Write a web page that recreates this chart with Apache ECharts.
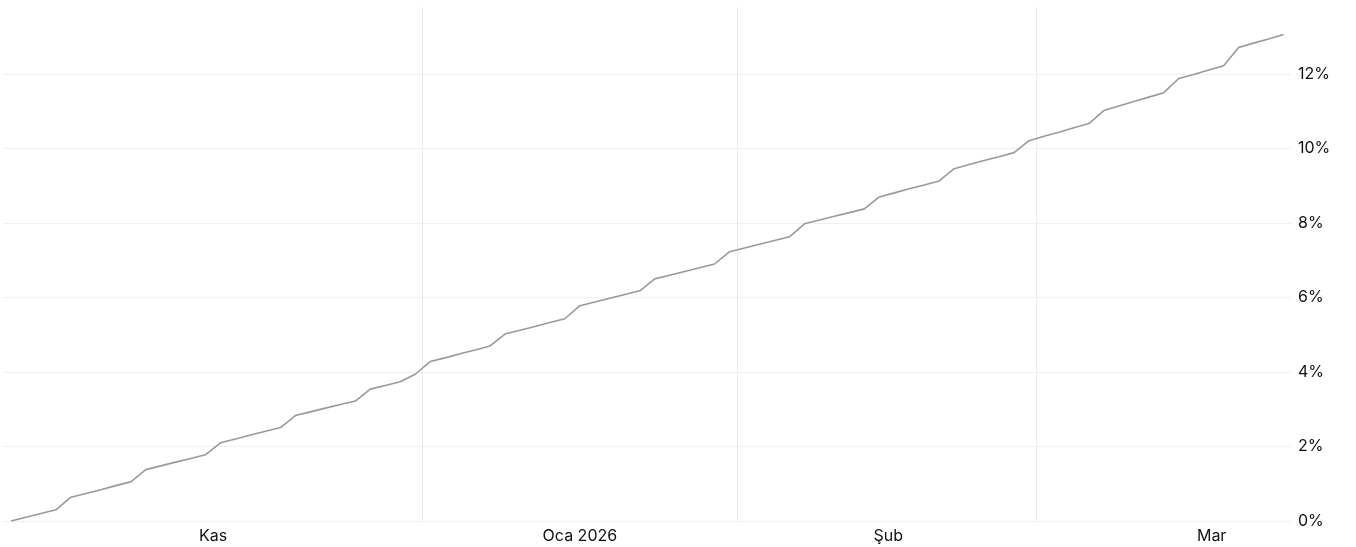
<!DOCTYPE html>
<html>
<head>
<meta charset="utf-8">
<script src="https://cdn.jsdelivr.net/npm/echarts@6/dist/echarts.min.js"></script>
<style>
  html, body { margin: 0; padding: 0; background: #fff; }
  #chart { width: 1356px; height: 547px; }
</style>
</head>
<body>
<div id="chart"></div>
<script>
// cumulative return (%), one point per trading day
const values = [
  0.00, 0.10, 0.20, 0.30, 0.64, 0.74, 0.84, 0.95, 1.05, 1.38,
  1.48, 1.58, 1.68, 1.78, 2.10, 2.20, 2.31, 2.41, 2.51, 2.83,
  2.93, 3.03, 3.13, 3.22, 3.54, 3.64, 3.74, 3.94, 4.28, 4.38,
  4.49, 4.59, 4.70, 5.02, 5.12, 5.22, 5.33, 5.43, 5.78, 5.88,
  5.98, 6.08, 6.18, 6.50, 6.60, 6.70, 6.80, 6.90, 7.23, 7.33,
  7.43, 7.53, 7.63, 7.98, 8.08, 8.18, 8.28, 8.38, 8.70, 8.81,
  8.92, 9.02, 9.13, 9.46, 9.57, 9.68, 9.78, 9.89, 10.21, 10.33,
  10.44, 10.56, 10.67, 11.02, 11.14, 11.26, 11.38, 11.50, 11.88, 11.99,
  12.11, 12.22, 12.71, 12.83, 12.94, 13.06
]

// x axis labels and month separators (in trading-day index units)
const xLabels = ['Kas', 'Oca 2026', 'Şub', 'Mar']
const xLabelPos = [13.5, 38, 58.6, 80.2]
const monthBreaks = [27.5, 48.5, 68.5]
const yTicks = [0, 2, 4, 6, 8, 10, 12]

const chart = echarts.init(document.getElementById('chart'))

const labelFont = {
  fontFamily: 'Inter, "Liberation Sans", sans-serif',
  fontSize: 16,
  color: '#111111',
}

chart.setOption({
  animation: false,
  grid: {
    left: 3.5,
    right: 65,
    top: 7,
    bottom: 26,
    containLabel: false,
    outerBoundsMode: 'none',
  },
  xAxis: {
    type: 'value',
    min: -0.5,
    max: values.length - 0.5,
    axisLine: {show: false},
    axisTick: {show: false, customValues: monthBreaks},
    splitLine: {show: true, lineStyle: {color: '#ececec', width: 1}},
    axisLabel: {
      ...labelFont,
      margin: 7,
      customValues: xLabelPos,
      formatter: v => xLabels[xLabelPos.indexOf(v)] ?? '',
    },
  },
  yAxis: {
    type: 'value',
    position: 'right',
    min: 0,
    max: 13.8,
    axisLine: {show: false},
    axisTick: {show: false, customValues: yTicks},
    splitLine: {show: true, lineStyle: {color: '#f0f0f0', width: 1}},
    axisLabel: {
      ...labelFont,
      margin: 7,
      customValues: yTicks,
      formatter: '{value}%',
    },
  },
  series: [
    {
      type: 'line',
      data: values.map((v, i) => [i, v]),
      symbol: 'none',
      lineStyle: {color: '#999999', width: 1.6},
    },
  ],
})
</script>
</body>
</html>
